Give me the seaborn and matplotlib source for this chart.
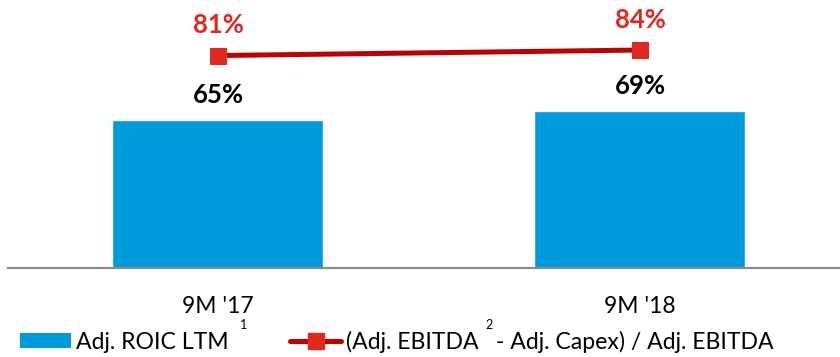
import numpy as np
import pandas as pd
import matplotlib
matplotlib.use("Agg")
import matplotlib.pyplot as plt
from matplotlib.lines import Line2D
from matplotlib.patches import Patch
import seaborn as sns

# Data
periods = ["9M '17", "9M '18"]
roic_ltm = [65, 69]            # Adj. ROIC LTM (%)
cash_conversion = [81, 84]     # (Adj. EBITDA - Adj. Capex) / Adj. EBITDA (%)
ratio_head = "(Adj. EBITDA"
ratio_tail = "- Adj. Capex) / Adj. EBITDA"
series_names = ["Adj. ROIC LTM", ratio_head]
footnotes = ["1", "2"]

BAR_BLUE = "#009BDB"
LINE_RED = "#C00000"
MARK_RED = "#E0291F"
AXIS_GREY = "#8C8C8C"
LEG_SIZE = 16.6

sns.set_theme(style="white")
plt.rcParams["font.family"] = ["Lato", "DejaVu Sans"]
plt.rcParams["text.color"] = "black"

df = pd.DataFrame({"period": periods, "roic": roic_ltm, "conv": cash_conversion})

fig = plt.figure(figsize=(8.4, 3.57), dpi=100)
W, H = 840, 357
ax = fig.add_axes([8 / W, (H - 268) / H, 1 - 8 / W, 268 / H])

sns.barplot(data=df, x="period", y="roic", color=BAR_BLUE, width=0.5,
            saturation=1, ax=ax)
ax.set_xlim(-0.4976, 1.474)
ax.set_ylim(0, 117.7)

# Secondary scale for the ratio line
ax2 = ax.twinx()
xpos = np.arange(len(periods))
sns.lineplot(x=xpos, y=df["conv"], ax=ax2, color=LINE_RED, linewidth=3.6,
             marker="s", markersize=12, markerfacecolor=MARK_RED,
             markeredgecolor=MARK_RED, legend=False)
ax2.set_ylim(-34.9, 111.3)
ax2.set_xlim(ax.get_xlim())

# Value labels
for i, v in enumerate(roic_ltm):
    ax.annotate(f"{v}%", (i, v), xytext=(0, 9.5), textcoords="offset points",
                ha="center", va="bottom", fontsize=18.5, fontweight="bold",
                color="black")
for i, v in enumerate(cash_conversion):
    ax2.annotate(f"{v}%", (i, v), xytext=(0, 13), textcoords="offset points",
                 ha="center", va="bottom", fontsize=18.5, fontweight="bold",
                 color=MARK_RED)

# Axes styling
for a in (ax, ax2):
    for s in ("top", "right", "left"):
        a.spines[s].set_visible(False)
    a.set_yticks([])
    a.set_ylabel("")
ax2.spines["bottom"].set_visible(False)
ax.spines["bottom"].set_color(AXIS_GREY)
ax.spines["bottom"].set_linewidth(1.6)
ax.set_xlabel("")
ax.tick_params(axis="x", length=0, pad=20, labelsize=16.5, labelcolor="black")

# Legend
handles = [
    Patch(facecolor=BAR_BLUE, edgecolor="none"),
    Line2D([], [], color=LINE_RED, linewidth=3.6, marker="s", markersize=12,
           markerfacecolor=MARK_RED, markeredgecolor=MARK_RED),
]
leg = fig.legend(handles, series_names, loc="lower left",
                 bbox_to_anchor=(11 / W, -5 / H), ncol=2, frameon=False,
                 fontsize=LEG_SIZE, handlelength=2.2, handleheight=0.6,
                 handletextpad=0.2, columnspacing=2.7, borderaxespad=0,
                 labelcolor="black")

# Rest of the second label and the footnote markers
fig.canvas.draw()
renderer = fig.canvas.get_renderer()
t1, t2 = leg.get_texts()
b1 = t1.get_window_extent(renderer)
b2 = t2.get_window_extent(renderer)
fig.text((b2.x1 + 18) / W, b2.y0 / H, ratio_tail, fontsize=LEG_SIZE,
         color="black", va="bottom", ha="left")
sup_y = b1.y1 + 0.5
fig.text((b1.x1 + 12) / W, sup_y / H, footnotes[0], fontsize=9,
         color="black", va="bottom")
fig.text((b2.x1 + 7) / W, sup_y / H, footnotes[1], fontsize=9,
         color="black", va="bottom")

fig.savefig("out.png", dpi=100)
